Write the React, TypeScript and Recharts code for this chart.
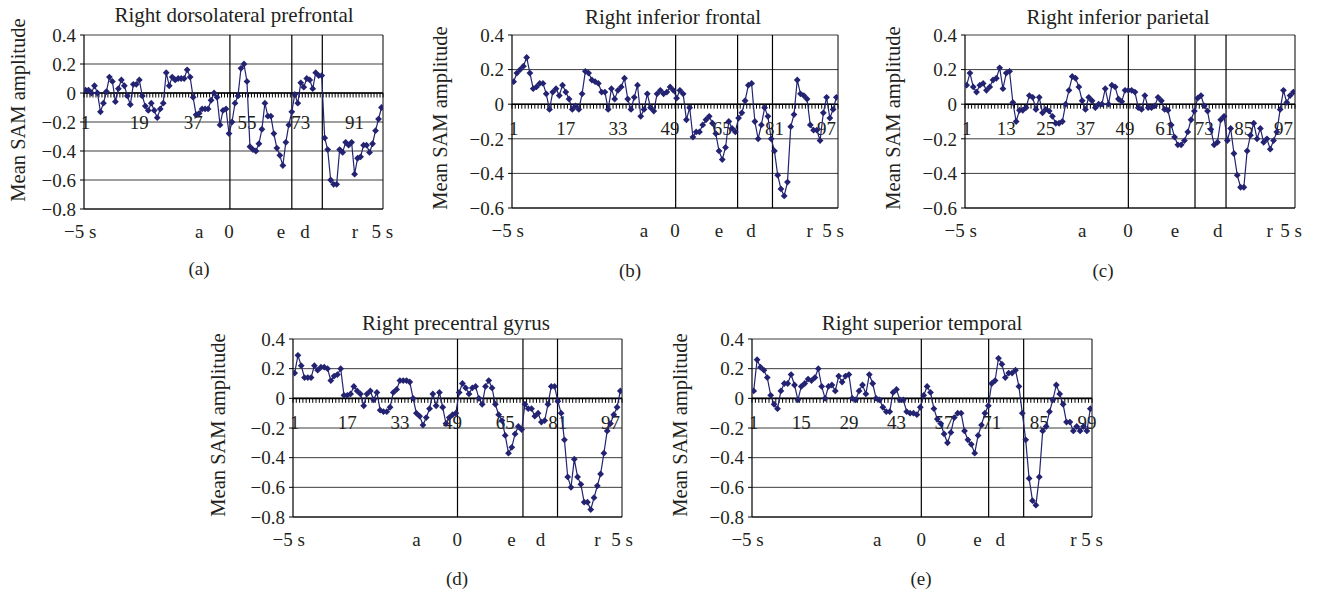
import React from 'react';
import { CartesianGrid, Line, LineChart, ReferenceLine, XAxis, YAxis } from 'recharts';

// mean SAM amplitude per sample, one array per region
const valsA = [
  0.02, 0.02, 0.0, 0.05, 0.0, -0.13, -0.07, 0.01, 0.11, 0.08, -0.06, 0.03, 0.09, 0.05, -0.02, -0.08, 0.06, 0.06, 0.09, -0.02,
  -0.09, -0.12, -0.07, -0.12, -0.17, -0.11, -0.07, 0.14, 0.05, 0.11, 0.09, 0.1, 0.1, 0.1, 0.16, 0.11, -0.03, -0.15, -0.14, -0.11,
  -0.11, -0.11, -0.05, 0.0, -0.03, -0.22, -0.12, -0.11, -0.28, -0.2, -0.07, -0.02, 0.17, 0.2, 0.08, -0.37, -0.39, -0.4, -0.35, -0.25,
  -0.07, -0.16, -0.16, -0.28, -0.38, -0.43, -0.5, -0.34, -0.22, -0.13, -0.01, -0.07, 0.07, 0.04, 0.1, 0.09, 0.03, 0.14, 0.12, 0.12,
  -0.31, -0.39, -0.6, -0.63, -0.63, -0.39, -0.41, -0.34, -0.36, -0.34, -0.56, -0.45, -0.44, -0.36, -0.36, -0.41, -0.35, -0.26, -0.18, -0.1,
];
const valsB = [
  0.13, 0.18, 0.2, 0.22, 0.27, 0.18, 0.09, 0.1, 0.12, 0.12, 0.06, -0.03, 0.07, 0.09, 0.05, 0.11, 0.07, 0.03, -0.03, -0.01,
  -0.03, 0.06, 0.19, 0.18, 0.14, 0.13, 0.12, 0.07, 0.07, -0.03, 0.09, 0.03, 0.08, 0.1, 0.15, 0.03, -0.03, 0.04, 0.11, -0.07,
  -0.03, 0.06, -0.02, -0.04, 0.06, 0.08, 0.06, 0.07, 0.1, 0.08, 0.035, 0.08, 0.06, -0.09, -0.02, -0.19, -0.16, -0.16, -0.12, -0.09,
  -0.07, -0.11, -0.17, -0.27, -0.32, -0.25, -0.1, -0.14, -0.16, -0.08, -0.05, 0.02, 0.11, 0.12, -0.1, -0.2, -0.12, -0.02, -0.07, -0.2,
  -0.27, -0.41, -0.49, -0.53, -0.45, -0.13, -0.06, 0.14, 0.06, 0.05, 0.03, -0.12, -0.15, -0.15, -0.21, -0.05, 0.04, -0.08, -0.03, 0.04,
];
const valsC = [
  0.11, 0.18, 0.1, 0.07, 0.11, 0.12, 0.08, 0.1, 0.14, 0.15, 0.21, 0.09, 0.18, 0.19, 0.01, -0.1, -0.035, -0.035, -0.02, 0.05,
  0.04, -0.03, 0.04, -0.05, -0.03, -0.04, -0.07, -0.11, -0.11, -0.1, 0.0, 0.08, 0.16, 0.15, 0.1, 0.02, -0.03, 0.04, 0.02, -0.02,
  0.0, 0.0, 0.09, 0.0, 0.11, 0.1, 0.03, 0.015, 0.08, 0.08, 0.08, 0.07, -0.02, -0.03, 0.05, -0.02, -0.02, -0.01, 0.04, 0.02,
  -0.03, -0.035, -0.12, -0.19, -0.235, -0.235, -0.21, -0.16, -0.09, -0.04, 0.035, 0.05, -0.01, -0.04, -0.145, -0.235, -0.22, -0.09, -0.07, -0.21,
  -0.14, -0.285, -0.41, -0.48, -0.48, -0.27, -0.18, -0.11, -0.2, -0.14, -0.22, -0.2, -0.26, -0.21, -0.16, -0.03, 0.08, 0.01, 0.05, 0.07,
];
const valsD = [
  0.17, 0.29, 0.22, 0.14, 0.14, 0.14, 0.22, 0.19, 0.21, 0.21, 0.2, 0.12, 0.15, 0.16, 0.2, 0.02, 0.02, 0.03, 0.08, 0.05,
  0.03, -0.05, 0.03, 0.05, -0.01, 0.04, -0.08, -0.09, -0.09, -0.06, 0.04, 0.06, 0.12, 0.12, 0.12, 0.11, 0.0, -0.1, -0.12, -0.18,
  -0.13, -0.07, 0.03, -0.05, 0.04, -0.06, -0.17, -0.13, -0.11, -0.1, 0.04, 0.1, 0.07, 0.03, 0.07, 0.08, 0.0, -0.04, 0.08, 0.12,
  0.07, -0.04, -0.11, -0.15, -0.25, -0.37, -0.33, -0.24, -0.19, -0.21, -0.04, -0.07, -0.07, -0.12, -0.1, -0.16, -0.15, -0.04, 0.08, 0.08,
  -0.02, -0.1, -0.28, -0.53, -0.6, -0.41, -0.53, -0.58, -0.7, -0.7, -0.75, -0.67, -0.59, -0.51, -0.37, -0.22, -0.17, -0.11, -0.06, 0.05,
];
const valsE = [
  0.05, 0.26, 0.21, 0.19, 0.14, 0.02, -0.04, -0.07, 0.05, 0.1, 0.1, 0.16, 0.09, -0.01, 0.08, 0.1, 0.13, 0.12, 0.14, 0.2,
  0.08, 0.0, 0.08, 0.09, 0.05, 0.15, 0.11, 0.15, 0.16, 0.0, -0.01, 0.05, 0.09, 0.03, 0.16, 0.1, 0.0, -0.01, -0.06, -0.09,
  -0.09, 0.04, 0.06, -0.01, -0.01, -0.09, -0.1, -0.1, -0.11, -0.06, 0.02, 0.08, 0.04, -0.07, -0.14, -0.17, -0.24, -0.3, -0.23, -0.13,
  -0.1, -0.1, -0.22, -0.28, -0.31, -0.37, -0.25, -0.18, -0.1, -0.05, 0.1, 0.12, 0.27, 0.23, 0.14, 0.17, 0.17, 0.19, 0.08, -0.1,
  -0.28, -0.54, -0.69, -0.72, -0.53, -0.22, -0.19, -0.09, -0.01, 0.09, 0.03, -0.04, -0.16, -0.16, -0.22, -0.19, -0.22, -0.19, -0.22, -0.07,
];

// sample numbers printed along the zero line
const idxLabelsA = [1, 19, 37, 55, 73, 91];
const idxLabelsB = [1, 17, 33, 49, 65, 81, 97];
const idxLabelsC = [1, 13, 25, 37, 49, 61, 73, 85, 97];
const idxLabelsD = [1, 17, 33, 49, 65, 81, 97];
const idxLabelsE = [1, 15, 29, 43, 57, 71, 85, 99];

// event labels under the plot, and where they sit (in sample units)
const eventNames = ['\u22125 s', 'a', '0', 'e', 'd', 'r', '5 s'];
const eventPosA = [-0.8, 39, 49, 66.4, 74.4, 91.1, 100.3];
const eventPosB = [-0.8, 41, 50.5, 64, 73.8, 91.8, 99];
const eventPosC = [-0.8, 36, 49.9, 64.1, 77.1, 92.8, 99.3];
const eventPosD = [-0.8, 38, 50.4, 66.9, 75.7, 93, 100.5];
const eventPosE = [-0.8, 37.3, 50.3, 66.8, 73.5, 95, 100.5];

// vertical event lines
const linesA = [49.3, 70, 80.2];
const linesB = [50.7, 69.7, 80.4];
const linesC = [50, 70.2, 79.6];
const linesD = [50.5, 70.4, 80.9];
const linesE = [50.3, 70.1, 80.4];

const yTicksDeep = [0.4, 0.2, 0, -0.2, -0.4, -0.6, -0.8];
const yTicksShallow = [0.4, 0.2, 0, -0.2, -0.4, -0.6];

const FONT = '"Liberation Serif", "DejaVu Serif", serif';
const INK = '#231f20';
const SERIES = '#232372';
const TICK_FS = 19;

const fmtY = (v: number) => (v < 0 ? `\u2212${Math.abs(v)}` : String(v));

function Diamond(props: any) {
  const { cx, cy } = props;
  if (cx == null || cy == null) return null;
  const r = 3.4;
  return <path d={`M${cx},${cy - r}L${cx + r},${cy}L${cx},${cy + r}L${cx - r},${cy}Z`} fill={SERIES} />;
}

function EventTick(props: any) {
  const { x, y, index, names } = props;
  return (
    <text x={x} y={y} dy={21} textAnchor="middle" fontSize={TICK_FS} fontFamily={FONT} fill={INK}>
      {names[index]}
    </text>
  );
}

// zero line tick marks and the sample numbers below it
function ZeroAxis(props: any) {
  const { viewBox, n, labels, labelDy } = props;
  if (!viewBox) return null;
  const { x, y, width } = viewBox;
  const step = width / n;
  const marks = [];
  for (let k = 0; k <= n; k++) {
    const px = x + k * step;
    marks.push(<line key={`t${k}`} x1={px} x2={px} y1={y} y2={y + 4.5} stroke="#000" strokeWidth={1} />);
  }
  return (
    <g>
      {marks}
      {labels.map((lab: number) => (
        <text
          key={`l${lab}`}
          x={x + (lab - 0.5) * step}
          y={y + labelDy}
          textAnchor="middle"
          dominantBaseline="central"
          fontSize={TICK_FS}
          fontFamily={FONT}
          fill={INK}
        >
          {lab}
        </text>
      ))}
    </g>
  );
}

type PanelProps = {
  title: string;
  caption: string;
  values: number[];
  idxLabels: number[];
  eventPos: number[];
  lines: number[];
  yTicks: number[];
  plot: { x0: number; x1: number; y0: number; y1: number };
  titleAt: [number, number];
  yLabelAt: [number, number];
  captionAt: [number, number];
  labelDy: number;
};

const YW = 62;
const MT = 14;
const MR = 16;
const XH = 38;

function Panel(p: PanelProps) {
  const n = p.values.length;
  const data = p.values.map((v, i) => ({ i: i + 1, v }));
  const width = p.plot.x1 - p.plot.x0 + YW + MR;
  const height = p.plot.y1 - p.plot.y0 + MT + XH;
  const text: React.CSSProperties = {
    position: 'absolute',
    fontFamily: FONT,
    color: INK,
    whiteSpace: 'nowrap',
    lineHeight: 1,
  };
  return (
    <>
      <div style={{ ...text, left: p.titleAt[0], top: p.titleAt[1], fontSize: 21, transform: 'translate(-50%, -50%)' }}>
        {p.title}
      </div>
      <div
        style={{
          ...text,
          left: p.yLabelAt[0],
          top: p.yLabelAt[1],
          fontSize: 20.5,
          transform: 'translate(-50%, -50%) rotate(-90deg)',
        }}
      >
        Mean SAM amplitude
      </div>
      <div style={{ ...text, left: p.captionAt[0], top: p.captionAt[1], fontSize: 19, transform: 'translate(-50%, -50%)' }}>
        {p.caption}
      </div>
      <div style={{ position: 'absolute', left: p.plot.x0 - YW, top: p.plot.y0 - MT }}>
        <LineChart width={width} height={height} data={data} margin={{ top: MT, right: MR, bottom: 0, left: 0 }}>
          <CartesianGrid vertical={false} stroke="#3c3c3c" strokeWidth={1} />
          <XAxis
            dataKey="i"
            type="number"
            domain={[0.5, n + 0.5]}
            ticks={p.eventPos}
            interval={0}
            allowDataOverflow
            tickLine={false}
            axisLine={{ stroke: '#000', strokeWidth: 1 }}
            height={XH}
            tick={<EventTick names={eventNames} />}
          />
          <YAxis
            type="number"
            domain={[p.yTicks[p.yTicks.length - 1], p.yTicks[0]]}
            ticks={p.yTicks}
            interval={0}
            width={YW}
            tickFormatter={fmtY}
            tickSize={4}
            tickMargin={4}
            tickLine={{ stroke: '#000' }}
            axisLine={{ stroke: '#000', strokeWidth: 1.2 }}
            tick={{ fill: INK, fontSize: TICK_FS, fontFamily: FONT }}
          />
          {p.lines.map((x) => (
            <ReferenceLine key={`v${x}`} x={x} stroke="#000" strokeWidth={1.2} />
          ))}
          <ReferenceLine x={n + 0.5} stroke="#000" strokeWidth={1} />
          <ReferenceLine
            y={0}
            stroke="#000"
            strokeWidth={1.6}
            label={<ZeroAxis n={n} labels={p.idxLabels} labelDy={p.labelDy} />}
          />
          <Line
            type="linear"
            dataKey="v"
            stroke={SERIES}
            strokeWidth={1.2}
            dot={<Diamond />}
            activeDot={false}
            isAnimationActive={false}
          />
        </LineChart>
      </div>
    </>
  );
}

export default function App() {
  return (
    <div style={{ position: 'absolute', left: 0, top: 0, width: 1319, height: 590, background: '#fff', overflow: 'hidden' }}>
      <Panel
        title="Right dorsolateral prefrontal"
        caption="(a)"
        values={valsA}
        idxLabels={idxLabelsA}
        eventPos={eventPosA}
        lines={linesA}
        yTicks={yTicksDeep}
        plot={{ x0: 84, x1: 383, y0: 35, y1: 209 }}
        titleAt={[234, 15]}
        yLabelAt={[18, 110]}
        captionAt={[199, 268]}
        labelDy={29}
      />
      <Panel
        title="Right inferior frontal"
        caption="(b)"
        values={valsB}
        idxLabels={idxLabelsB}
        eventPos={eventPosB}
        lines={linesB}
        yTicks={yTicksShallow}
        plot={{ x0: 512, x1: 838, y0: 35, y1: 208 }}
        titleAt={[673, 17]}
        yLabelAt={[440, 118]}
        captionAt={[630, 270]}
        labelDy={24}
      />
      <Panel
        title="Right inferior parietal"
        caption="(c)"
        values={valsC}
        idxLabels={idxLabelsC}
        eventPos={eventPosC}
        lines={linesC}
        yTicks={yTicksShallow}
        plot={{ x0: 965, x1: 1295, y0: 35, y1: 208 }}
        titleAt={[1118, 17]}
        yLabelAt={[893, 118]}
        captionAt={[1103, 270]}
        labelDy={24}
      />
      <Panel
        title="Right precentral gyrus"
        caption="(d)"
        values={valsD}
        idxLabels={idxLabelsD}
        eventPos={eventPosD}
        lines={linesD}
        yTicks={yTicksDeep}
        plot={{ x0: 293, x1: 622, y0: 339, y1: 517 }}
        titleAt={[456, 323]}
        yLabelAt={[218, 425]}
        captionAt={[457, 578]}
        labelDy={24}
      />
      <Panel
        title="Right superior temporal"
        caption="(e)"
        values={valsE}
        idxLabels={idxLabelsE}
        eventPos={eventPosE}
        lines={linesE}
        yTicks={yTicksDeep}
        plot={{ x0: 752, x1: 1092, y0: 339, y1: 517 }}
        titleAt={[922, 323]}
        yLabelAt={[680, 425]}
        captionAt={[921, 578]}
        labelDy={24}
      />
    </div>
  );
}
